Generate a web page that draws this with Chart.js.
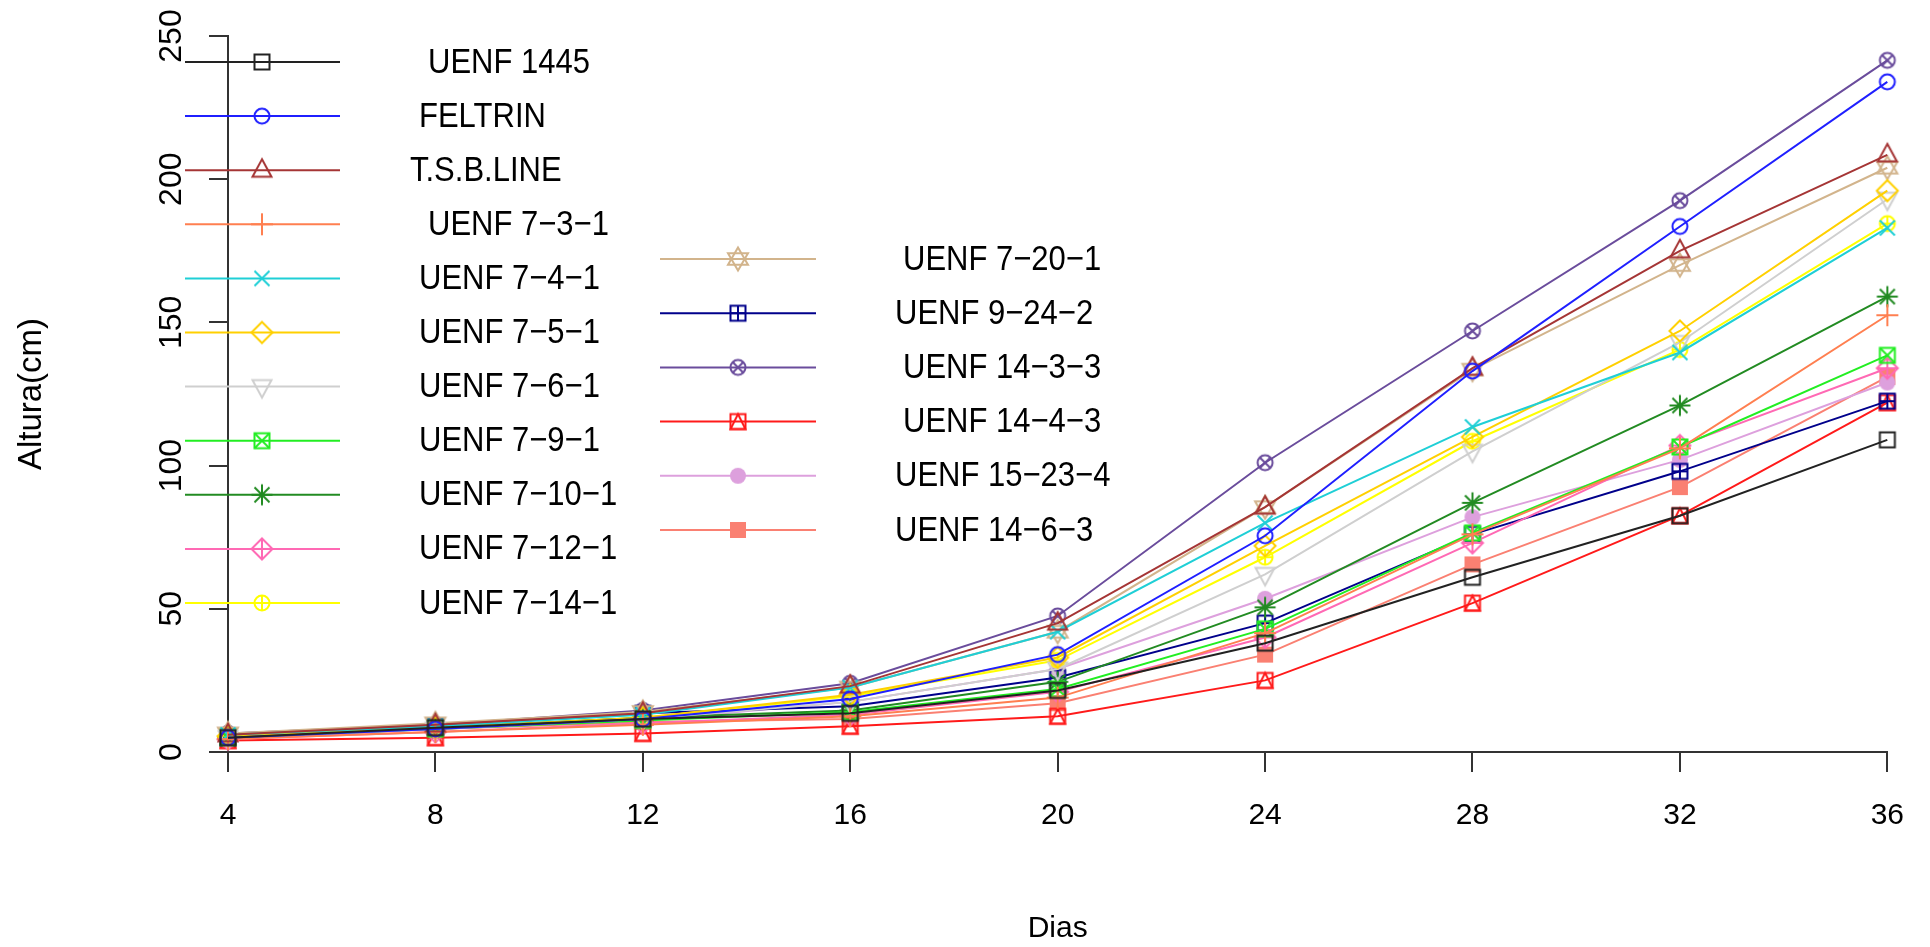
<!DOCTYPE html>
<html><head><meta charset="utf-8">
<script src="https://cdn.jsdelivr.net/npm/chart.js@4.4.1/dist/chart.umd.min.js"></script>
<style>html,body{margin:0;padding:0;background:#fff;overflow:hidden}</style>
</head><body>
<canvas id="c" width="1930" height="947"></canvas>
<script>
// ---------- data ----------
const days = [4, 8, 12, 16, 20, 24, 28, 32, 36];
const yTickValues = [0, 50, 100, 150, 200, 250];
const seriesNames = ['UENF 1445','FELTRIN','T.S.B.LINE','UENF 7\u22123\u22121','UENF 7\u22124\u22121','UENF 7\u22125\u22121','UENF 7\u22126\u22121','UENF 7\u22129\u22121','UENF 7\u221210\u22121','UENF 7\u221212\u22121','UENF 7\u221214\u22121','UENF 7\u221220\u22121','UENF 9\u221224\u22122','UENF 14\u22123\u22123','UENF 14\u22124\u22123','UENF 15\u221223\u22124','UENF 14\u22126\u22123'];
const uenf1445  = [5, 8.5, 11.5, 13.5, 21.5, 38, 61, 82.5, 109];
const feltrin   = [5, 8, 11.5, 18.5, 34, 75.5, 133, 183.5, 234];
const tsbLine   = [6, 9.5, 13.5, 23, 45, 85.5, 134, 175, 208.5];
const uenf7_3_1 = [4.5, 7, 9.5, 12.5, 19, 41.5, 76, 106, 152.5];
const uenf7_4_1 = [6, 9, 13, 22.5, 42, 80, 113.5, 139.5, 183];
const uenf7_5_1 = [5.5, 8.5, 12, 20, 33, 72, 110, 147, 196];
const uenf7_6_1 = [5, 8, 11.5, 17.5, 29, 62, 105, 143, 193];
const uenf7_9_1 = [5, 8, 11, 14, 22, 43, 76.5, 106.5, 138.5];
const uenf7_10_1 = [5, 8.5, 12, 14.5, 24.5, 50.5, 87, 121, 159];
const uenf7_12_1 = [4.5, 7, 10, 13, 21, 40, 73, 107, 134];
const uenf7_14_1 = [5.5, 8.5, 12, 19.5, 32, 68, 108.5, 140.5, 184.5];
const uenf7_20_1 = [6.5, 10, 14, 22.5, 42, 85.5, 133.5, 170, 204];
const uenf9_24_2 = [5, 9, 13.5, 16, 26, 45, 76, 98, 122.5];
const uenf14_3_3 = [6.5, 9.5, 14.5, 24, 47.5, 101, 147, 192.5, 241.5];
const uenf14_4_3 = [4, 5, 6.5, 9, 12.5, 25, 52, 82.5, 122];
const uenf15_23_4 = [5, 8.5, 11, 17.5, 29, 53.5, 82, 102, 129];
const uenf14_6_3 = [5, 8, 10.5, 11.5, 17, 34, 65.5, 92.5, 131];
const seriesValues = [uenf1445, feltrin, tsbLine, uenf7_3_1, uenf7_4_1, uenf7_5_1, uenf7_6_1, uenf7_9_1, uenf7_10_1, uenf7_12_1, uenf7_14_1, uenf7_20_1, uenf9_24_2, uenf14_3_3, uenf14_4_3, uenf15_23_4, uenf14_6_3];

// ---------- styles ----------
const colors = ['#222222','#1f1fff','#a53535','#ff7f50','#1fcfd6','#ffd000','#cfcfcf','#22ee22','#228b22','#ff69b4','#ffff00','#d2b48c','#00008b','#6a4c9c','#ff1a1a','#dda0dd','#fa8072'];
const symbols = [0,1,2,3,4,5,6,7,8,9,10,11,12,13,14,16,15];
const FONT = "'Liberation Sans', Arial, Helvetica, sans-serif";

function makeMarker(pch, color) {
  const S = 32, c = document.createElement('canvas');
  c.width = S; c.height = S;
  const g = c.getContext('2d');
  g.translate(S / 2, S / 2);
  g.strokeStyle = color; g.fillStyle = color; g.lineWidth = 2;
  const h = 7.5;
  const seg = (a, b, cc, d) => { g.beginPath(); g.moveTo(a, b); g.lineTo(cc, d); g.stroke(); };
  const sq = () => g.strokeRect(-h, -h, 2 * h, 2 * h);
  const circ = r => { g.beginPath(); g.arc(0, 0, r, 0, Math.PI * 2); g.stroke(); };
  const poly = pts => { g.beginPath(); pts.forEach((p, i) => i ? g.lineTo(p[0], p[1]) : g.moveTo(p[0], p[1])); g.closePath(); g.stroke(); };
  const plus = r => { seg(-r, 0, r, 0); seg(0, -r, 0, r); };
  const cross = r => { seg(-r, -r, r, r); seg(-r, r, r, -r); };
  const diamond = r => poly([[0, -r], [r, 0], [0, r], [-r, 0]]);
  switch (pch) {
    case 0: sq(); break;
    case 1: circ(7.5); break;
    case 2: poly([[0, -11], [9.5, 6.5], [-9.5, 6.5]]); break;
    case 3: plus(11); break;
    case 4: cross(7.5); break;
    case 5: diamond(10.5); break;
    case 6: poly([[0, 11], [9.5, -6.5], [-9.5, -6.5]]); break;
    case 7: sq(); cross(h); break;
    case 8: plus(10.5); cross(7.5); break;
    case 9: diamond(10.5); plus(10.5); break;
    case 10: circ(7.5); plus(7.5); break;
    case 11: poly([[0, -11.5], [10, 5.7], [-10, 5.7]]); poly([[0, 11.5], [10, -5.7], [-10, -5.7]]); break;
    case 12: sq(); plus(h); break;
    case 13: circ(7.5); cross(5.3); break;
    case 14: sq(); poly([[0, -h], [h, h], [-h, h]]); break;
    case 15: g.fillRect(-8, -8, 16, 16); break;
    case 16: g.beginPath(); g.arc(0, 0, 8, 0, Math.PI * 2); g.fill(); break;
  }
  return c;
}
const markers = symbols.map((p, i) => makeMarker(p, colors[i]));

const datasets = seriesNames.map((name, i) => ({
  label: name,
  data: days.map((d, j) => ({ x: d, y: seriesValues[i][j] })),
  borderColor: colors[i],
  backgroundColor: colors[i],
  borderWidth: 2,
  pointStyle: markers[i],
  pointRadius: 8,
  pointHoverRadius: 8,
  tension: 0,
  fill: false,
  clip: false
}));

// legend layout (style)
const legendCols = [
  { first: 0, count: 11, x1: 185, x2: 340, sx: 262, tx: 419, y0: 62, dy: 54.1 },
  { first: 11, count: 6, x1: 660, x2: 816, sx: 738, tx: 895, y0: 259, dy: 54.2 }
];
const legendShift = [9, 0, -9, 9, 0, 0, 0, 0, 0, 0, 0, 8, 0, 8, 8, 0, 0];

const rPlotPlugin = {
  id: 'rPlot',
  afterDraw(chart) {
    const ctx = chart.ctx;
    // y tick labels (rotated, R style)
    const ys = chart.scales.y;
    ctx.save();
    ctx.fillStyle = '#000';
    ctx.font = '32px ' + FONT;
    ctx.textAlign = 'center';
    ctx.textBaseline = 'middle';
    ys.ticks.forEach(t => {
      const py = ys.getPixelForValue(t.value);
      ctx.save();
      ctx.translate(172, py);
      ctx.rotate(-Math.PI / 2);
      ctx.fillText(String(t.value), 0, 0);
      ctx.restore();
    });
    ctx.restore();
    // legend
    ctx.save();
    legendCols.forEach(col => {
      for (let k = 0; k < col.count; k++) {
        const i = col.first + k;
        const y = col.y0 + k * col.dy;
        ctx.strokeStyle = colors[i];
        ctx.lineWidth = 2;
        ctx.beginPath(); ctx.moveTo(col.x1, y); ctx.lineTo(col.x2, y); ctx.stroke();
        const m = markers[i];
        ctx.drawImage(m, col.sx - m.width / 2, y - m.height / 2);
        ctx.save();
        ctx.fillStyle = '#000';
        ctx.font = '31px ' + FONT;
        ctx.textAlign = 'left';
        ctx.textBaseline = 'middle';
        ctx.translate(col.tx + legendShift[i], y + 1);
        ctx.scale(1, 1.12);
        ctx.fillText(chart.data.datasets[i].label, 0, 0);
        ctx.restore();
      }
    });
    ctx.restore();
  }
};

new Chart(document.getElementById('c'), {
  type: 'line',
  data: { datasets },
  plugins: [rPlotPlugin],
  options: {
    responsive: false,
    devicePixelRatio: 1,
    animation: false,
    layout: { padding: { left: 0, top: 36, right: 41, bottom: 0 } },
    plugins: { legend: { display: false }, tooltip: { enabled: false } },
    scales: {
      x: {
        type: 'linear', min: 4, max: 36,
        afterBuildTicks(s) { s.ticks = days.map(v => ({ value: v })); },
        ticks: { color: '#000', font: { size: 30, family: FONT }, padding: 26, maxRotation: 0, autoSkip: false },
        grid: { drawOnChartArea: false, drawTicks: true, tickLength: 20, tickColor: '#333', lineWidth: 2 },
        border: { display: true, color: '#333', width: 2 },
        title: { display: true, text: 'Dias', color: '#000', font: { size: 30, family: FONT }, padding: { top: 0, bottom: 0 } },
        afterFit(s) { s.height = 195; }
      },
      y: {
        type: 'linear', min: 0, max: 250,
        afterBuildTicks(s) { s.ticks = yTickValues.map(v => ({ value: v })); },
        ticks: { display: false },
        grid: { drawOnChartArea: false, drawTicks: true, tickLength: 19, tickColor: '#333', lineWidth: 2 },
        border: { display: true, color: '#333', width: 2 },
        title: { display: true, text: 'Altura(cm)', color: '#000', font: { size: 33, family: FONT }, padding: { top: 12, bottom: 0 } },
        afterFit(s) { s.width = 228; }
      }
    }
  }
});
</script>
</body></html>
